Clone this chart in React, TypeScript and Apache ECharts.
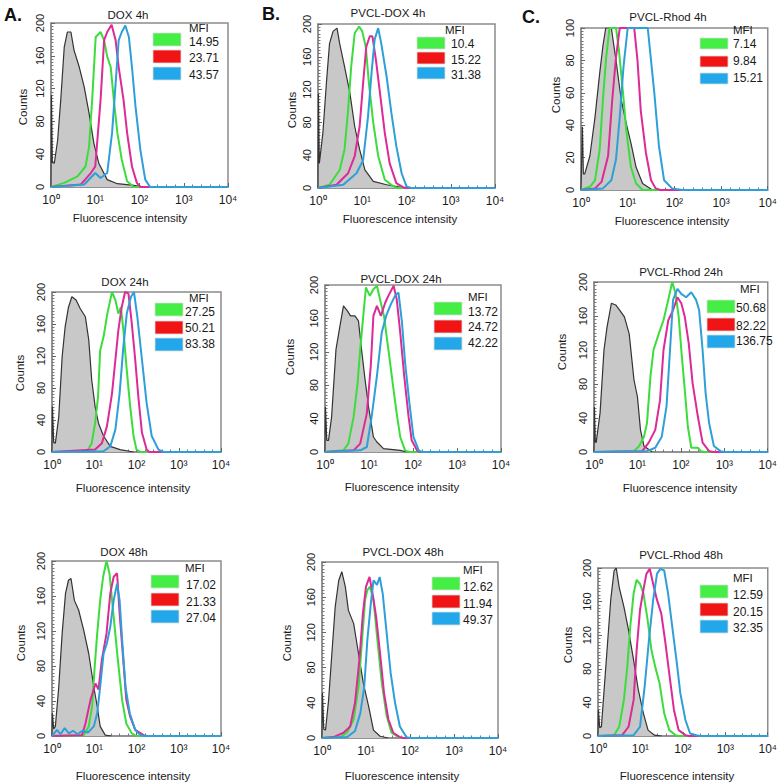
import React, { useEffect, useRef } from 'react';
import * as echarts from 'echarts';

// ---------- text ----------
const panelTitles = ['DOX 4h', 'PVCL-DOX 4h', 'PVCL-Rhod 4h', 'DOX 24h', 'PVCL-DOX 24h', 'PVCL-Rhod 24h', 'DOX 48h', 'PVCL-DOX 48h', 'PVCL-Rhod 48h'];
const panelLetters = ['A.', 'B.', 'C.'];
const xTickLabels = ['10⁰', '10¹', '10²', '10³', '10⁴'];
const xAxisTitle = 'Fluorescence intensity';
const yAxisTitle = 'Counts';
const legendTitle = 'MFI';
const yMaxes = [200, 200, 100, 200, 200, 200, 200, 200, 200];

// MFI values: green, red, blue
const mfiDox4h = ['14.95', '23.71', '43.57'];
const mfiPdox4h = ['10.4', '15.22', '31.38'];
const mfiRhod4h = ['7.14', '9.84', '15.21'];
const mfiDox24h = ['27.25', '50.21', '83.38'];
const mfiPdox24h = ['13.72', '24.72', '42.22'];
const mfiRhod24h = ['50.68', '82.22', '136.75'];
const mfiDox48h = ['17.02', '21.33', '27.04'];
const mfiPdox48h = ['12.62', '11.94', '49.37'];
const mfiRhod48h = ['12.59', '20.15', '32.35'];

// ---------- histograms: [log10 intensity, counts] ----------
const dox4hCtrl = [[0,0],[0.01,112],[0.03,30],[0.075,29],[0.15,57],[0.22,106],[0.3,171],[0.37,189],[0.45,189],[0.52,167],[0.64,146],[0.75,122],[0.86,90],[0.97,53],[1.08,29],[1.27,9],[1.5,4],[1.87,2],[2.1,0]];
const dox4hGreen = [[0,0],[0.3,5],[0.6,13],[0.78,25],[0.86,49],[0.93,106],[1.01,183],[1.12,189],[1.2,179],[1.27,159],[1.35,146],[1.42,106],[1.5,66],[1.6,33],[1.72,7],[1.87,0],[4,0]];
const dox4hRed = [[0,0],[0.67,3],[0.9,17],[1.0,25],[1.12,106],[1.2,179],[1.27,189],[1.37,198],[1.46,179],[1.53,146],[1.64,106],[1.72,66],[1.83,25],[1.94,5],[2.02,0],[4,0]];
const dox4hBlue = [[0,0],[0.75,3],[1.0,17],[1.12,11],[1.27,17],[1.38,66],[1.46,126],[1.53,179],[1.6,189],[1.68,197],[1.76,183],[1.83,146],[1.91,98],[2.02,45],[2.13,9],[2.24,0],[4,0]];

const pdox4hCtrl = [[0,0],[0.01,115],[0.03,30],[0.04,30],[0.11,67],[0.19,128],[0.26,176],[0.34,191],[0.43,195],[0.49,176],[0.6,148],[0.72,116],[0.83,75],[0.94,47],[1.06,22],[1.25,8],[1.55,4],[1.85,1],[2,0]];
const pdox4hGreen = [[0,0],[0.26,4],[0.49,22],[0.6,47],[0.68,95],[0.75,148],[0.83,189],[0.93,197],[1.0,191],[1.08,172],[1.15,128],[1.25,79],[1.36,39],[1.51,10],[1.7,2],[1.8,0],[4,0]];
const pdox4hRed = [[0,0],[0.42,4],[0.68,18],[0.83,39],[0.94,75],[1.02,128],[1.09,172],[1.17,185],[1.23,185],[1.31,156],[1.4,116],[1.51,67],[1.62,30],[1.77,6],[1.92,1],[2,0],[4,0]];
const pdox4hBlue = [[0,0],[0.57,4],[0.87,18],[1.02,34],[1.13,87],[1.21,140],[1.28,181],[1.36,195],[1.43,176],[1.55,136],[1.66,91],[1.77,51],[1.89,18],[2.0,2],[2.1,0],[4,0]];

const rhod4hCtrl = [[0,0],[0.03,39],[0.05,10],[0.08,10],[0.19,21],[0.3,45],[0.4,72],[0.47,89],[0.53,100],[0.65,100],[0.75,80],[0.86,56],[0.97,41],[1.07,29],[1.18,14],[1.32,4],[1.53,0]];
const rhod4hGreen = [[0,0],[0.19,2],[0.3,6],[0.4,25],[0.47,56],[0.54,82],[0.61,100],[0.75,100],[0.81,87],[0.9,60],[0.97,37],[1.07,14],[1.18,4],[1.32,0],[4,0]];
const rhod4hRed = [[0,0],[0.3,1],[0.44,5],[0.58,21],[0.67,56],[0.75,82],[0.83,100],[1.14,100],[1.21,80],[1.28,49],[1.39,23],[1.5,6],[1.6,1],[1.7,0],[4,0]];
const rhod4hBlue = [[0,0],[0.47,1],[0.65,6],[0.75,19],[0.83,45],[0.91,76],[1.0,100],[1.43,100],[1.5,80],[1.57,60],[1.67,27],[1.78,6],[1.95,1],[2.17,0],[4,0]];

const dox24hCtrl = [[0,0],[0.01,57],[0.04,12],[0.08,11],[0.16,44],[0.24,119],[0.31,156],[0.39,181],[0.47,194],[0.57,190],[0.67,179],[0.79,169],[0.87,140],[0.94,90],[1.02,57],[1.1,36],[1.22,20],[1.38,7],[1.61,3],[1.93,0]];
const dox24hGreen = [[0,0],[0.83,1],[0.94,11],[1.02,36],[1.09,69],[1.14,127],[1.22,144],[1.31,173],[1.42,200],[1.5,190],[1.57,173],[1.63,181],[1.69,152],[1.77,102],[1.85,57],[1.93,20],[2.0,3],[2.1,0],[4,0]];
const dox24hRed = [[0,0],[1.02,3],[1.18,11],[1.3,32],[1.42,73],[1.5,115],[1.57,152],[1.65,181],[1.73,200],[1.81,198],[1.89,160],[1.97,115],[2.05,65],[2.13,24],[2.24,3],[2.3,0],[4,0]];
const dox24hBlue = [[0,0],[1.22,1],[1.38,7],[1.5,28],[1.6,73],[1.69,132],[1.77,173],[1.87,194],[1.94,200],[2.02,169],[2.13,115],[2.24,61],[2.36,20],[2.52,3],[2.64,0],[4,0]];

const pdox24hCtrl = [[0,0],[0.01,54],[0.04,14],[0.08,14],[0.15,42],[0.25,123],[0.34,151],[0.42,175],[0.51,169],[0.58,163],[0.68,163],[0.76,157],[0.83,123],[0.91,87],[0.99,54],[1.1,18],[1.18,12],[1.33,4],[1.71,2],[1.86,0]];
const pdox24hGreen = [[0,0],[0.42,2],[0.53,10],[0.65,42],[0.74,82],[0.8,123],[0.87,163],[0.93,197],[1.02,187],[1.1,195],[1.18,199],[1.25,183],[1.34,163],[1.44,123],[1.54,82],[1.63,46],[1.71,18],[1.82,2],[1.9,0],[4,0]];
const pdox24hRed = [[0,0],[0.65,2],[0.8,10],[0.95,46],[1.04,103],[1.1,163],[1.18,175],[1.27,163],[1.37,179],[1.44,187],[1.56,199],[1.63,183],[1.71,143],[1.8,91],[1.9,42],[1.97,14],[2.09,2],[2.15,0],[4,0]];
const pdox24hBlue = [[0,0],[0.8,2],[0.95,6],[1.06,42],[1.18,91],[1.29,143],[1.39,163],[1.48,175],[1.59,187],[1.67,191],[1.75,155],[1.82,107],[1.92,58],[2.01,18],[2.13,2],[2.2,0],[4,0]];

const rhod24hCtrl = [[0,0],[0.01,53],[0.03,12],[0.05,11],[0.14,46],[0.23,120],[0.3,147],[0.4,175],[0.5,173],[0.59,167],[0.7,159],[0.81,139],[0.92,85],[1.0,65],[1.07,26],[1.15,7],[1.34,0]];
const rhod24hGreen = [[0,0],[0.92,1],[1.04,7],[1.15,18],[1.22,34],[1.3,89],[1.37,120],[1.49,139],[1.6,155],[1.71,179],[1.8,200],[1.88,186],[1.95,159],[2.01,120],[2.09,73],[2.16,30],[2.24,5],[2.39,5],[2.46,1],[2.55,0],[4,0]];
const rhod24hRed = [[0,0],[1.11,1],[1.26,11],[1.41,26],[1.52,61],[1.6,120],[1.71,155],[1.82,167],[1.92,182],[2.01,175],[2.09,159],[2.18,128],[2.27,81],[2.39,42],[2.5,11],[2.65,1],[2.75,0],[4,0]];
const rhod24hBlue = [[0,0],[1.22,1],[1.41,5],[1.56,18],[1.67,54],[1.75,120],[1.82,179],[1.92,192],[2.01,186],[2.12,182],[2.24,188],[2.35,179],[2.42,167],[2.5,120],[2.57,69],[2.65,34],[2.76,7],[2.91,1],[3.0,0],[4,0]];

const dox48hCtrl = [[0,0],[0.01,26],[0.04,8],[0.08,11],[0.16,56],[0.24,117],[0.32,163],[0.39,178],[0.45,180],[0.53,155],[0.63,144],[0.75,121],[0.87,94],[0.99,56],[1.07,34],[1.14,11],[1.26,1],[1.4,0]];
const dox48hGreen = [[0,0],[0.75,1],[0.87,11],[0.95,34],[1.01,79],[1.07,117],[1.14,155],[1.21,182],[1.29,200],[1.36,186],[1.46,136],[1.55,91],[1.66,41],[1.76,14],[1.89,3],[2.0,0],[4,0]];
const dox48hRed = [[0,0],[0.71,1],[0.79,14],[0.91,41],[1.03,60],[1.1,53],[1.18,87],[1.29,117],[1.38,163],[1.46,182],[1.54,186],[1.6,140],[1.68,91],[1.76,41],[1.85,22],[1.97,7],[2.17,1],[2.25,0],[4,0]];
const dox48hBlue = [[0,0],[0.05,3],[0.12,7],[0.2,2],[0.3,9],[0.4,3],[0.5,6],[0.6,2],[0.72,6],[0.85,4],[0.99,11],[1.07,26],[1.14,56],[1.22,94],[1.3,106],[1.38,125],[1.46,155],[1.54,174],[1.6,155],[1.66,110],[1.74,56],[1.84,26],[1.97,7],[2.09,1],[2.2,0],[4,0]];

const pdox48hCtrl = [[0,0],[0.01,51],[0.04,10],[0.08,9],[0.15,43],[0.23,100],[0.3,149],[0.38,179],[0.45,189],[0.53,172],[0.6,145],[0.72,130],[0.83,96],[0.94,62],[1.06,36],[1.17,9],[1.32,2],[1.5,0]];
const pdox48hGreen = [[0,0],[0.42,1],[0.57,6],[0.72,21],[0.83,58],[0.91,111],[0.98,157],[1.03,168],[1.09,172],[1.17,157],[1.26,111],[1.36,62],[1.47,25],[1.58,6],[1.74,1],[1.85,0],[4,0]];
const pdox48hRed = [[0,0],[0.26,1],[0.49,6],[0.64,13],[0.75,40],[0.85,89],[0.93,142],[1.0,172],[1.08,183],[1.15,164],[1.23,138],[1.32,96],[1.41,51],[1.51,21],[1.62,6],[1.77,1],[1.85,0],[4,0]];
const pdox48hBlue = [[0,0],[0.57,1],[0.75,8],[0.87,28],[0.96,58],[1.03,111],[1.11,153],[1.17,179],[1.25,174],[1.31,183],[1.38,164],[1.47,119],[1.56,74],[1.66,40],[1.77,13],[1.92,1],[2.0,0],[4,0]];

const rhod48hCtrl = [[0,0],[0.01,31],[0.04,10],[0.08,11],[0.15,59],[0.23,114],[0.3,162],[0.38,197],[0.43,200],[0.5,177],[0.61,154],[0.72,126],[0.84,90],[0.95,55],[1.07,27],[1.18,7],[1.33,1],[1.5,0]];
const rhod48hGreen = [[0,0],[0.38,1],[0.5,11],[0.61,43],[0.69,82],[0.76,130],[0.84,170],[0.91,186],[0.99,181],[1.07,170],[1.17,138],[1.26,102],[1.35,82],[1.45,63],[1.56,27],[1.68,7],[1.83,1],[1.9,0],[4,0]];
const rhod48hRed = [[0,0],[0.57,1],[0.72,11],[0.84,43],[0.91,102],[0.99,150],[1.07,174],[1.14,193],[1.22,199],[1.3,181],[1.39,162],[1.49,146],[1.58,114],[1.68,74],[1.79,31],[1.9,7],[2.06,1],[2.15,0],[4,0]];
const rhod48hBlue = [[0,0],[0.84,1],[0.99,11],[1.1,59],[1.2,114],[1.3,162],[1.39,193],[1.47,199],[1.56,197],[1.65,170],[1.75,130],[1.85,90],[1.94,51],[2.06,19],[2.17,3],[2.32,1],[2.4,0],[4,0]];

const panelCurves = [
  [dox4hCtrl, dox4hGreen, dox4hRed, dox4hBlue],
  [pdox4hCtrl, pdox4hGreen, pdox4hRed, pdox4hBlue],
  [rhod4hCtrl, rhod4hGreen, rhod4hRed, rhod4hBlue],
  [dox24hCtrl, dox24hGreen, dox24hRed, dox24hBlue],
  [pdox24hCtrl, pdox24hGreen, pdox24hRed, pdox24hBlue],
  [rhod24hCtrl, rhod24hGreen, rhod24hRed, rhod24hBlue],
  [dox48hCtrl, dox48hGreen, dox48hRed, dox48hBlue],
  [pdox48hCtrl, pdox48hGreen, pdox48hRed, pdox48hBlue],
  [rhod48hCtrl, rhod48hGreen, rhod48hRed, rhod48hBlue],
];
const panelMfi = [mfiDox4h, mfiPdox4h, mfiRhod4h, mfiDox24h, mfiPdox24h, mfiRhod24h, mfiDox48h, mfiPdox48h, mfiRhod48h];

// ---------- layout (pixels) ----------
const gridBoxes = [
  [51, 23, 177, 164], [318, 24, 177, 164], [581, 28, 189, 162],
  [52, 292, 169, 160], [325, 285, 176, 167], [594, 282, 178, 170],
  [52, 561, 169, 175], [322, 562, 176, 176], [598, 568, 175, 168],
];
const titlePos = [[128, 15], [388, 13], [668, 17], [125, 282], [401, 279], [681, 272], [124, 552], [403, 552], [681, 555]];
const countsPos = [[23, 107], [292, 110], [556, 95], [20, 373], [290, 357], [562, 352], [21, 643], [287, 643], [568, 645]];
const xTitlePos = [[130, 218], [400, 219], [672, 221], [133, 488], [402, 487], [680, 488], [133, 776], [402, 776], [677, 776]];
const letterPos = [[4, 15], [262, 14], [522, 17]];
const legendPos = [
  { rx: 153, ry: [33, 50, 67], mx: 189, my: 28, tx: 189, ty: [42, 58, 75], h: 13, fs: 12 },
  { rx: 417, ry: [37, 52, 67], mx: 445, my: 30, tx: 451, ty: [44, 60, 75], h: 12, fs: 12 },
  { rx: 700, ry: [38, 56, 73], mx: 733, my: 30, tx: 733, ty: [44, 61, 78], h: 11, fs: 12 },
  { rx: 155, ry: [303, 321, 338], mx: 189, my: 298, tx: 185, ty: [312, 328, 344], h: 13, fs: 12 },
  { rx: 434, ry: [302, 320, 337], mx: 468, my: 297, tx: 468, ty: [312, 327, 343], h: 13, fs: 12 },
  { rx: 707, ry: [300, 318, 335], mx: 740, my: 289, tx: 736, ty: [308, 326, 341], h: 13, fs: 12 },
  { rx: 151, ry: [575, 593, 610], mx: 185, my: 568, tx: 186, ty: [585, 602, 618], h: 13, fs: 12 },
  { rx: 432, ry: [577, 595, 612], mx: 463, my: 570, tx: 463, ty: [587, 604, 620], h: 13, fs: 12 },
  { rx: 700, ry: [585, 603, 620], mx: 733, my: 578, tx: 733, ty: [595, 612, 628], h: 13, fs: 12 },
];

const FONT = '"Liberation Sans", Arial, Helvetica, sans-serif';
const lineColors = ['#3ddc3d', '#dc2a96', '#2e9fd8'];
const legendColors = ['#44ee44', '#f01414', '#22a8ea'];

export default function App() {
  const ref = useRef<HTMLDivElement>(null);

  useEffect(() => {
    if (!ref.current) return;
    const chart = echarts.init(ref.current, null, { renderer: 'svg' });

    const grid: any[] = [];
    const xAxis: any[] = [];
    const yAxis: any[] = [];
    const series: any[] = [];
    const graphic: any[] = [];
    const center = { align: 'center', verticalAlign: 'middle', textAlign: 'center', textVerticalAlign: 'middle' };
    const leftMid = { align: 'left', verticalAlign: 'middle', textAlign: 'left', textVerticalAlign: 'middle' };

    gridBoxes.forEach((b, i) => {
      grid.push({ left: b[0], top: b[1], width: b[2], height: b[3], show: true, borderColor: '#8c8c8c', borderWidth: 1.5, backgroundColor: '#fff' });
      xAxis.push({
        type: 'value', gridIndex: i, min: 0, max: 4, interval: 1,
        axisLine: { show: true, lineStyle: { color: '#8c8c8c', width: 1.5 } },
        axisTick: { show: true, inside: true, length: 4, lineStyle: { color: '#666' } },
        minorTick: { show: true, splitNumber: 5, length: 2.5, lineStyle: { color: '#777' } },
        splitLine: { show: false },
        axisLabel: { fontFamily: FONT, fontSize: 12, color: '#1a1a1a', margin: 7, formatter: (v: number) => xTickLabels[v] ?? '' },
      });
      const ym = yMaxes[i];
      yAxis.push({
        type: 'value', gridIndex: i, min: 0, max: ym, interval: ym / 5,
        axisLine: { show: true, lineStyle: { color: '#8c8c8c', width: 1.5 } },
        axisTick: { show: true, inside: true, length: 4, lineStyle: { color: '#666' } },
        minorTick: { show: true, splitNumber: 10, length: 2.5, lineStyle: { color: '#777' } },
        splitLine: { show: false },
        axisLabel: { fontFamily: FONT, fontSize: 11, color: '#1a1a1a', rotate: 90, margin: 6 },
      });

      const curves = panelCurves[i];
      series.push({
        type: 'line', xAxisIndex: i, yAxisIndex: i, data: curves[0], symbol: 'none', silent: true,
        lineStyle: { color: '#333333', width: 1.2 },
        areaStyle: { color: '#c8c8c8', opacity: 1 }, z: 2,
      });
      for (let k = 0; k < 3; k++) {
        series.push({
          type: 'line', xAxisIndex: i, yAxisIndex: i, data: curves[k + 1], symbol: 'none', silent: true,
          lineStyle: { color: lineColors[k], width: 2 }, z: 3 + k,
        });
      }

      graphic.push({ type: 'text', x: titlePos[i][0], y: titlePos[i][1], style: { text: panelTitles[i], fontFamily: FONT, fontSize: 11.5, fill: '#1a1a1a', ...center } });
      graphic.push({ type: 'text', x: countsPos[i][0], y: countsPos[i][1], rotation: Math.PI / 2, style: { text: yAxisTitle, fontFamily: FONT, fontSize: 11.5, fill: '#1a1a1a', ...center } });
      graphic.push({ type: 'text', x: xTitlePos[i][0], y: xTitlePos[i][1], style: { text: xAxisTitle, fontFamily: FONT, fontSize: 11.5, fill: '#1a1a1a', ...center } });
      const L = legendPos[i];
      graphic.push({ type: 'text', x: L.mx, y: L.my, style: { text: legendTitle, fontFamily: FONT, fontSize: 11.5, fill: '#1a1a1a', ...leftMid } });
      for (let k = 0; k < 3; k++) {
        graphic.push({ type: 'rect', shape: { x: L.rx, y: L.ry[k], width: 28, height: L.h }, style: { fill: legendColors[k], stroke: '#dddddd', lineWidth: 0.8 } });
        graphic.push({ type: 'text', x: L.tx, y: L.ty[k], style: { text: panelMfi[i][k], fontFamily: FONT, fontSize: L.fs, fill: '#1a1a1a', ...leftMid } });
      }
    });

    panelLetters.forEach((t, i) => {
      graphic.push({ type: 'text', x: letterPos[i][0], y: letterPos[i][1], style: { text: t, fontFamily: FONT, fontSize: 18, fontWeight: 'bold', fill: '#111', ...leftMid } });
    });

    chart.setOption({
      animation: false,
      backgroundColor: '#ffffff',
      grid, xAxis, yAxis, series, graphic,
    });
    return () => chart.dispose();
  }, []);

  return <div ref={ref} style={{ position: 'absolute', left: 0, top: 0, width: 780, height: 784 }} />;
}
